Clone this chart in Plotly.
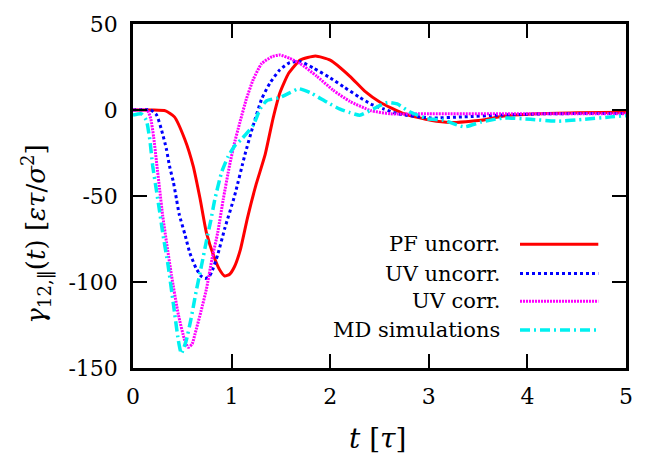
import plotly.graph_objects as go

# Friction kernel gamma_12,|| (t) for the four models
t_pf = [0, 0.2, 0.33, 0.42, 0.525, 0.61, 0.68, 0.745, 0.83, 0.88, 0.93, 0.98, 1.03, 1.09,
        1.16, 1.25, 1.34, 1.42, 1.49, 1.58, 1.695, 1.85, 2.0, 2.2, 2.35, 2.51, 2.75,
        3.02, 3.22, 3.53, 3.76, 4.1, 4.5, 5.0]
y_pf = [0, 0, -0.5, -4, -17, -32.5, -51.5, -71.5, -86.6, -93, -96.5, -95.5, -91, -81,
        -63, -43, -26, -5, 10, 21.5, 29, 31.4, 29, 19.6, 11, 4.4, -2.2,
        -6, -7.3, -6, -3.5, -2.2, -1.6, -1.3]

t_uvu = [0, 0.18, 0.24, 0.29, 0.34, 0.37, 0.41, 0.44, 0.47, 0.525, 0.576, 0.64, 0.69,
         0.73, 0.77, 0.8, 0.86, 0.93, 1.03, 1.135, 1.22, 1.305, 1.39, 1.49, 1.59, 1.695,
         1.83, 2.0, 2.135, 2.3, 2.41, 2.54, 2.68, 3.02, 3.36, 3.7, 4.2, 5.0]
y_uvu = [0, 0, -3, -11.7, -23, -32.5, -42, -51.5, -61, -72, -83, -92, -96.5,
         -98, -97, -94, -84, -69, -50, -26, -8.8, 6.4, 15.8, 23.4, 27.6, 28.2,
         24.4, 18.7, 13.5, 7.3, 3.5, 0.7, -2.2, -4.6, -4, -3, -2.2, -2]

t_uvc = [0, 0.12, 0.15, 0.18, 0.21, 0.24, 0.27, 0.30, 0.34, 0.39, 0.46, 0.525, 0.56,
         0.6, 0.63, 0.69, 0.745, 0.80, 0.86, 0.915, 0.98, 1.03, 1.085, 1.15, 1.22, 1.305,
         1.41, 1.49, 1.59, 1.695, 1.865, 2.03, 2.2, 2.41, 2.61, 3.0, 4.0, 5.0]
y_uvc = [0, 0, -0.5, -5, -16, -31, -46, -61, -77, -96, -119, -134, -138,
         -136, -130, -117, -104, -87, -71, -52, -32, -19, -7, 6.4, 17.8, 27,
         31, 32, 30, 27, 19.6, 11.5, 5, -0.3, -2.2, -2.2, -2.2, -2.2]

t_md = [0, 0.084, 0.135, 0.17, 0.2, 0.24, 0.27, 0.30, 0.355, 0.41, 0.46, 0.49, 0.54,
        0.59, 0.64, 0.695, 0.745, 0.79, 0.83, 0.90, 0.965, 1.03, 1.10, 1.22, 1.29, 1.356,
        1.49, 1.59, 1.68, 1.80, 1.97, 2.1, 2.2, 2.3, 2.44, 2.58, 2.68, 2.81, 2.98, 3.15,
        3.36, 3.53, 3.76, 4.03, 4.31, 4.58, 4.85, 5.0]
y_md = [-3, -2.2, -6, -17, -32.5, -47.7, -59, -71, -90, -113, -134, -141.6, -134,
        -121, -105.6, -90.4, -76, -64, -52, -36, -27, -21, -17, -8.8, 0.7, 5.4,
        7.3, 10, 12.4, 10, 4.4, 0.5, -1.5, -3, 0.7, 4.4, 3.5, -1.2, -5, -6,
        -9.8, -7, -4.6, -5.4, -6.5, -5.4, -4, -3.3]

series_names = ["PF uncorr.", "UV uncorr.", "UV corr.", "MD simulations"]
x_ticks = [0, 1, 2, 3, 4, 5]
x_tick_text = ["0", "1", "2", "3", "4", "5"]
y_ticks = [-150, -100, -50, 0, 50]
y_tick_text = ["-150", "-100", "-50", "0", "50"]

FONT = "DejaVu Serif"
W, H = 649, 456
ML, MR, MT, MB = 133, 23, 17, 88

styles = [
    dict(color="#ff0000", width=3, dash="solid"),
    dict(color="#0000ff", width=3, dash="dot"),
    dict(color="#ff00ff", width=3, dash="2px,1px"),
    dict(color="#00f0f0", width=3.5, dash="10px,4px,2px,4px"),
]
data = [(t_pf, y_pf), (t_uvu, y_uvu), (t_uvc, y_uvc), (t_md, y_md)]

fig = go.Figure()
for (tx, ty), name, st in zip(data, series_names, styles):
    fig.add_trace(go.Scatter(
        x=tx, y=ty, mode="lines", name=name, showlegend=False,
        line=dict(color=st["color"], width=st["width"], dash=st["dash"],
                  shape="spline", smoothing=0.5),
    ))

# Key: right-aligned labels with line samples to their right
pw = W - ML - MR
ph = H - MT - MB
def px_to_paper(px, py):
    return (px - ML) / pw, (H - MB - py) / ph

row_py = [241.7, 271.7, 300.0, 329.3]
for name, st, py in zip(series_names, styles, row_py):
    tx, ty = px_to_paper(501.7, py)
    fig.add_annotation(x=tx, y=ty, xref="paper", yref="paper", text=name,
                       showarrow=False, xanchor="right", yanchor="middle",
                       font=dict(family=FONT, size=21, color="black"))
    x0, yy = px_to_paper(520, py)
    x1, _ = px_to_paper(598.3, py)
    fig.add_shape(type="line", xref="paper", yref="paper", x0=x0, x1=x1, y0=yy, y1=yy,
                  line=dict(color=st["color"], width=st["width"], dash=st["dash"]))

# Axis titles
ax, ay = px_to_paper(36, 232)
fig.add_annotation(x=ax, y=ay, xref="paper", yref="paper", textangle=-90,
                   text="<i>γ</i><sub>12,‖</sub>(<i>t</i>) [<i>ετ</i>/<i>σ</i><sup>2</sup>]",
                   showarrow=False, xanchor="center", yanchor="middle",
                   font=dict(family=FONT, size=26, color="black"))
bx, by = px_to_paper(378, 440)
fig.add_annotation(x=bx, y=by, xref="paper", yref="paper",
                   text="<i>t</i> [<i>τ</i>]", showarrow=False,
                   xanchor="center", yanchor="middle",
                   font=dict(family=FONT, size=28, color="black"))

axis_common = dict(showgrid=False, zeroline=False, showline=True, linecolor="black",
                   linewidth=2.5, mirror="ticks", ticks="inside", ticklen=14,
                   tickwidth=2, tickcolor="black",
                   tickfont=dict(family=FONT, size=22, color="black"))
fig.update_xaxes(range=[0, 5], tickvals=x_ticks, ticktext=x_tick_text,
                 ticklabelstandoff=7, **axis_common)
fig.update_yaxes(range=[-150, 50], tickvals=y_ticks, ticktext=y_tick_text,
                 ticklabelstandoff=8, **axis_common)

fig.update_layout(width=W, height=H, margin=dict(l=ML, r=MR, t=MT, b=MB),
                  paper_bgcolor="white", plot_bgcolor="white",
                  font=dict(family=FONT, color="black"))
fig.write_html("out.html")
